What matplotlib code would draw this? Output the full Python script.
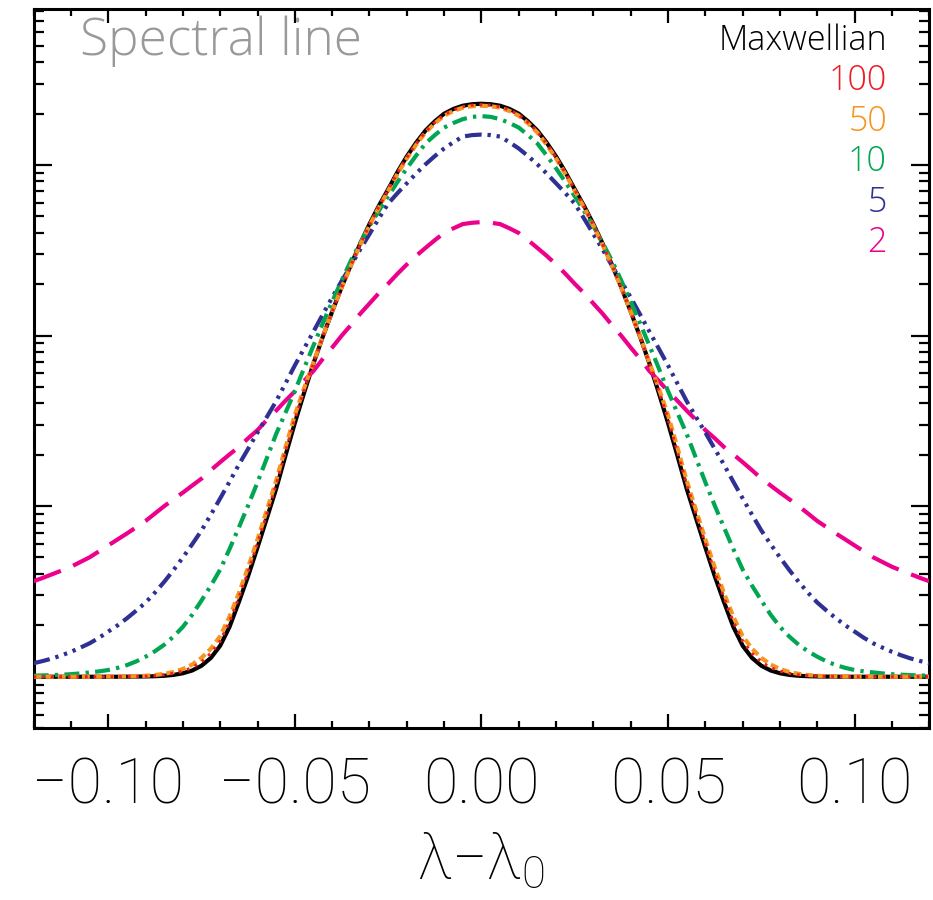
import numpy as np
import matplotlib
matplotlib.use('Agg')
import matplotlib.pyplot as plt
from matplotlib.ticker import FixedLocator, MultipleLocator, LogLocator, NullFormatter

plt.rcParams['font.family'] = ['Open Sans', 'DejaVu Sans']
plt.rcParams['mathtext.default'] = 'regular'

# profile sampled at x = 0 ... 0.12 every 0.0025 (symmetric about line centre)
x_half = [0.0, 0.0025, 0.005, 0.0075, 0.010, 0.0125, 0.015, 0.0175, 0.020, 0.0225,
          0.025, 0.0275, 0.030, 0.0325, 0.035, 0.0375, 0.040, 0.0425, 0.045, 0.0475,
          0.050, 0.0525, 0.055, 0.0575, 0.060, 0.0625, 0.065, 0.0675, 0.070, 0.0725,
          0.075, 0.0775, 0.080, 0.0825, 0.085, 0.0875, 0.090, 0.0925, 0.095, 0.0975,
          0.100, 0.1025, 0.105, 0.1075, 0.110, 0.1125, 0.115, 0.1175, 0.120]

maxwell_half = [2283, 2268, 2223, 2129, 1996, 1800, 1589, 1349, 1121, 908,
                720, 575, 450, 345, 259, 191, 138, 98.4, 68.7, 46.3,
                30.7, 19.8, 12.65, 8.5, 5.73, 3.9, 2.74, 1.96, 1.52, 1.29,
                1.16, 1.088, 1.048, 1.025, 1.013, 1.007, 1.004, 1.002, 1.001, 1.0,
                1.0, 1.0, 1.0, 1.0, 1.0, 1.0, 1.0, 1.0, 1.0]
k100_half = [2253, 2238, 2193, 2099, 1970, 1775, 1568, 1330, 1106, 898,
             715, 569, 444, 342, 258, 190.5, 138, 98.6, 69.1, 47.7,
             32.4, 20.9, 13.35, 8.97, 6.04, 4.13, 2.91, 2.10, 1.62, 1.373,
             1.22, 1.131, 1.077, 1.046, 1.027, 1.014, 1.007, 1.004, 1.002, 1.001,
             1.0, 1.0, 1.0, 1.0, 1.0, 1.0, 1.0, 1.0, 1.0]
k50_half = [2223, 2209, 2165, 2072, 1944, 1752, 1548, 1312, 1091, 886,
            705, 563, 441, 339, 256, 190, 138, 98.9, 69.6, 49.2,
            34.2, 22.1, 14.1, 9.48, 6.38, 4.39, 3.09, 2.25, 1.73, 1.46,
            1.29, 1.179, 1.11, 1.066, 1.04, 1.023, 1.013, 1.007, 1.004, 1.002,
            1.001, 1.0, 1.0, 1.0, 1.0, 1.0, 1.0, 1.0, 1.0]
k10_half = [1931, 1912, 1854, 1761, 1655, 1494, 1335, 1134, 954, 794,
            655, 538, 438, 348, 274, 209, 158, 118, 87.4, 64.5,
            47.2, 35.3, 26.5, 19.1, 13.8, 10.1, 7.5, 5.6, 4.25, 3.42,
            2.8, 2.31, 1.96, 1.72, 1.54, 1.41, 1.31, 1.23, 1.17, 1.127,
            1.095, 1.075, 1.06, 1.046, 1.035, 1.028, 1.022, 1.018, 1.015]
k5_half = [1506, 1495, 1466, 1358, 1248, 1126, 1007, 890, 780, 683,
           593, 485, 393, 319, 256, 208, 167, 133, 105.5, 84,
           66.8, 52.4, 41.2, 33.3, 27.0, 21.7, 17.5, 13.9, 11.1, 8.91,
           7.2, 5.98, 5.0, 4.22, 3.6, 3.11, 2.72, 2.44, 2.2, 2.0,
           1.84, 1.69, 1.57, 1.48, 1.40, 1.335, 1.28, 1.237, 1.2]
k2_half = [462, 458, 450, 425, 399, 362, 326, 293, 261, 230,
           201, 177, 154, 134, 115, 99.5, 85, 73, 62, 54.3,
           47.1, 41.5, 36.3, 32, 27.9, 25, 22.2, 20.1, 18.1, 16.25,
           14.5, 13.2, 12.0, 10.97, 10.0, 9.05, 8.18, 7.52, 6.91, 6.38,
           5.88, 5.43, 5.01, 4.70, 4.41, 4.19, 3.99, 3.80, 3.63]

labels = ['Maxwellian', '100', '50', '10', '5', '2']
colors = ['black', '#ED1C24', '#F7941D', '#00A651', '#2E3192', '#EC008C']
xtick_vals = [-0.10, -0.05, 0.0, 0.05, 0.10]
xtick_labels = ['\u22120.10', '\u22120.05', '0.00', '0.05', '0.10']


def mirror(h, neg=False):
    h = list(h)
    left = [-v for v in h[::-1]] if neg else h[::-1]
    return np.array(left[:-1] + h)


x = mirror(x_half, neg=True)

fig = plt.figure(figsize=(9.33, 9.0), dpi=100)
ax = fig.add_axes([0.036, 0.191, 0.960, 0.799])

ax.plot(x, mirror(maxwell_half), color=colors[0], lw=3.0, zorder=2)
ax.plot(x, mirror(k2_half), color=colors[5], lw=3.0, ls=(0, (7.0, 3.2)), zorder=3)
ax.plot(x, mirror(k5_half), color=colors[4], lw=3.0,
        ls=(0, (4.0, 1.4, 0.8, 1.4, 0.8, 1.4, 0.8, 1.4)), zorder=3)
ax.plot(x, mirror(k10_half), color=colors[3], lw=3.0, ls=(0, (3.6, 1.5, 0.8, 1.5)), zorder=4)
ax.plot(x, mirror(k50_half), color=colors[2], lw=3.0, ls=(0, (1.9, 1.0)), zorder=5)
ax.plot(x, mirror(k100_half), color=colors[1], lw=2.2, ls=(0, (0.9, 1.9)), zorder=6)

ax.set_yscale('log')
ax.set_xlim(-0.12, 0.12)
ax.set_ylim(0.5, 8200)

ax.xaxis.set_major_locator(FixedLocator(xtick_vals))
ax.set_xticklabels(xtick_labels)
ax.xaxis.set_minor_locator(MultipleLocator(0.01))
ax.yaxis.set_major_locator(LogLocator(base=10))
ax.yaxis.set_minor_locator(LogLocator(base=10, subs=np.arange(2, 10)))
ax.yaxis.set_major_formatter(NullFormatter())
ax.yaxis.set_minor_formatter(NullFormatter())

for s in ax.spines.values():
    s.set_linewidth(2.2)

ax.tick_params(axis='both', which='both', direction='in', top=True, right=True, width=1.6)
ax.tick_params(axis='y', which='major', length=13)
ax.tick_params(axis='y', which='minor', length=7)
ax.tick_params(axis='x', which='major', length=10, pad=20)
ax.tick_params(axis='x', which='minor', length=5)
for t in ax.get_xticklabels():
    t.set_fontfamily(['Roboto', 'DejaVu Sans'])
    t.set_fontweight('light')
    t.set_fontsize(45)

ax.set_xlabel('\u03bb\u2212\u03bb$_0$', fontsize=45, fontweight='light',
              family=['Roboto', 'DejaVu Sans'], labelpad=11)

ax.text(0.052, 0.936, 'Spectral line', transform=ax.transAxes, fontsize=37,
        color='#999999', fontweight='light', ha='left', va='baseline')

label_y = [0.943, 0.887, 0.8307, 0.7747, 0.7177, 0.6616]
for lab, c, yy in zip(labels, colors, label_y):
    ax.text(0.9528, yy, lab, transform=ax.transAxes, fontsize=24.5,
            color=c, fontweight='light', ha='right', va='baseline')

fig.savefig('out.png', dpi=100)
